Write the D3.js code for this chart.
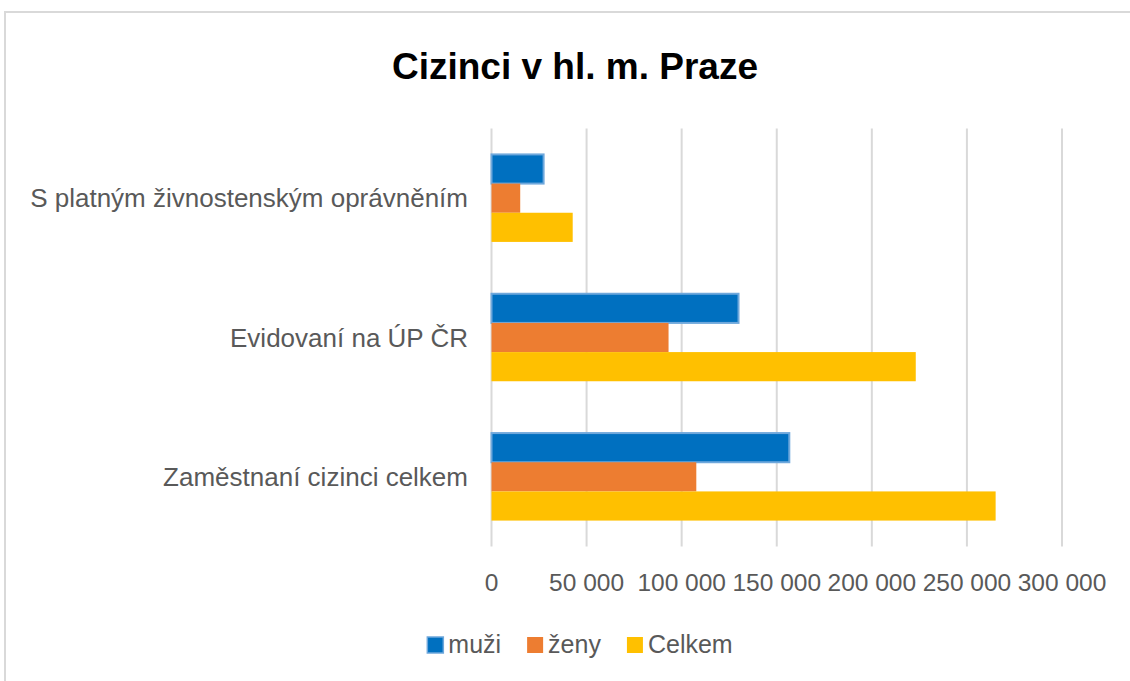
<!DOCTYPE html>
<html>
<head>
<meta charset="utf-8">
<script src="https://cdn.jsdelivr.net/npm/d3@7"></script>
<style>
  body { margin: 0; background: #fff; }
  text { font-family: 'Liberation Sans', Arial, sans-serif; }
</style>
</head>
<body>
<svg width="1130" height="681"></svg>
<script>
'use strict'

const categories = ['S platným živnostenským oprávněním', 'Evidovaní na ÚP ČR', 'Zaměstnaní cizinci celkem']
const seriesNames = ['muži', 'ženy', 'Celkem']
const muzi = [27400, 129900, 156600]
const zeny = [15100, 93100, 107700]
const celkem = [42700, 223100, 265100]
const ticks = [0, 50000, 100000, 150000, 200000, 250000, 300000]

const colors = ['#0070c0', '#ed7d31', '#ffc000']
const seriesValues = [muzi, zeny, celkem]

const svg = d3.select('svg')
const textColor = '#595959'

// chart frame (cut by the window on the right / bottom)
svg.append('rect')
    .attr('x', 5).attr('y', 12)
    .attr('width', 1200).attr('height', 1000)
    .attr('fill', 'none')
    .attr('stroke', '#d9d9d9')
    .attr('stroke-width', 2)

const plotLeft = 491.5
const plotRight = 1062
const plotTop = 128.5
const plotBottom = 546.5

const x = d3.scaleLinear().domain([0, 300000]).range([plotLeft, plotRight])
const y = d3.scaleBand().domain(categories).range([plotTop, plotBottom])
    .paddingInner(0.372).paddingOuter(0.186)
const ySub = d3.scaleBand().domain(seriesNames).range([0, y.bandwidth()])

const fmt = d3.formatLocale({ decimal: ',', thousands: '\u00a0', grouping: [3], currency: ['', ''] }).format(',')

// title
svg.append('text')
    .attr('x', 575).attr('y', 79)
    .attr('text-anchor', 'middle')
    .attr('font-size', 37)
    .attr('font-weight', 'bold')
    .attr('fill', '#000')
    .text('Cizinci v hl. m. Praze')

// gridlines
svg.append('g')
    .selectAll('line')
    .data(ticks)
    .enter()
    .append('line')
    .attr('x1', d => x(d)).attr('x2', d => x(d))
    .attr('y1', plotTop).attr('y2', plotBottom)
    .attr('stroke', '#d9d9d9')
    .attr('stroke-width', 2)

// tick labels
svg.append('g')
    .selectAll('text')
    .data(ticks)
    .enter()
    .append('text')
    .attr('x', d => x(d))
    .attr('y', 591)
    .attr('text-anchor', 'middle')
    .attr('font-size', 24.5)
    .attr('fill', textColor)
    .text(d => fmt(d))

// category labels
svg.append('g')
    .selectAll('text')
    .data(categories)
    .enter()
    .append('text')
    .attr('x', 468)
    .attr('y', d => y(d) + y.bandwidth() / 2 + 9)
    .attr('text-anchor', 'end')
    .attr('font-size', 26)
    .attr('fill', textColor)
    .text(d => d)

// bars
const rows = []
categories.forEach((c, i) => {
    seriesNames.forEach((s, j) => {
        rows.push({ cat: c, series: s, value: seriesValues[j][i], color: colors[j] })
    })
})

svg.append('g')
    .selectAll('rect')
    .data(rows)
    .enter()
    .append('rect')
    .attr('x', x(0))
    .attr('y', d => y(d.cat) + ySub(d.series))
    .attr('width', d => x(d.value) - x(0))
    .attr('height', ySub.bandwidth())
    .attr('fill', d => d.color)
    .attr('stroke', d => d.series === 'muži' ? '#6fa8dc' : 'none')
    .attr('stroke-width', 2)

// legend
const legend = svg.append('g')
let lx = 0
seriesNames.forEach((s, i) => {
    const g = legend.append('g').attr('transform', `translate(${lx},0)`)
    g.append('rect')
        .attr('x', 0).attr('y', -16)
        .attr('width', 16).attr('height', 16)
        .attr('fill', colors[i])
        .attr('stroke', i === 0 ? '#6fa8dc' : 'none')
        .attr('stroke-width', 1.5)
    const t = g.append('text')
        .attr('x', 21).attr('y', 0)
        .attr('font-size', 25)
        .attr('fill', textColor)
        .text(s)
    lx += 21 + t.node().getComputedTextLength() + 26
})
const legendWidth = lx - 26
legend.attr('transform', `translate(${580 - legendWidth / 2},653)`)
</script>
</body>
</html>
